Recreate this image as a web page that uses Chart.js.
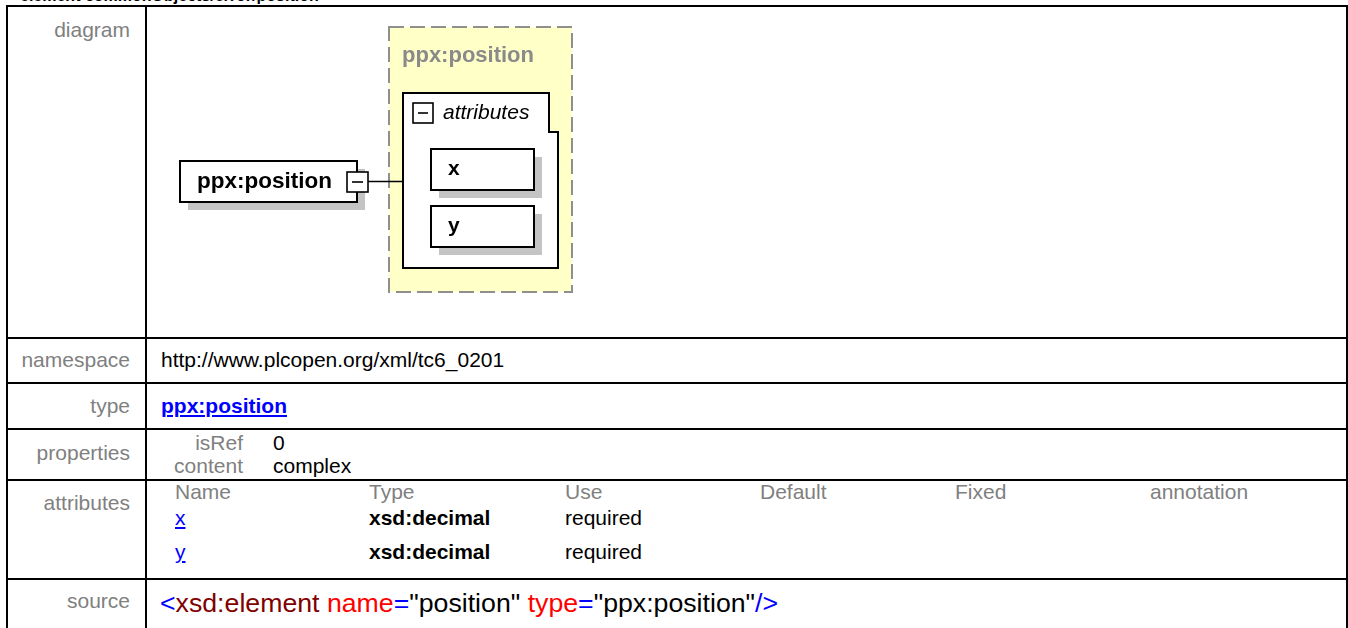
<!DOCTYPE html>
<html>
<head>
<meta charset="utf-8">
<script src="https://cdn.jsdelivr.net/npm/chart.js"></script>
<style>
  html, body { margin: 0; padding: 0; background: #fff; }
  body { width: 1348px; height: 628px; overflow: hidden; position: relative;
         font-family: "Liberation Sans", Arial, sans-serif; }
  .rule { position: absolute; background: #000; }
  .t { position: absolute; line-height: 1; white-space: nowrap; font-size: 21px; color: #000; }
  .lab { left: 6px; width: 124px; text-align: right; color: #808080; }
  .gray { color: #808080; }
  a, .link { color: #0000ff; text-decoration: underline; }
  #diagram { position: absolute; left: 148px; top: 7px; }
</style>
</head>
<body>

<div class="t" style="left:20px; top:-12.5px; font-size:16px; font-weight:bold;">element commonObjects/error/position</div>

<!-- table frame -->
<div class="rule" style="left:6px; top:5px; width:1342px; height:2px;"></div>
<div class="rule" style="left:6px; top:337px; width:1342px; height:2px;"></div>
<div class="rule" style="left:6px; top:382px; width:1342px; height:2px;"></div>
<div class="rule" style="left:6px; top:428px; width:1342px; height:2px;"></div>
<div class="rule" style="left:6px; top:479px; width:1342px; height:2px;"></div>
<div class="rule" style="left:6px; top:578px; width:1342px; height:2px;"></div>
<div class="rule" style="left:6px; top:5px; width:2px; height:630px;"></div>
<div class="rule" style="left:145px; top:5px; width:2px; height:630px;"></div>
<div class="rule" style="left:1346px; top:5px; width:2px; height:630px;"></div>

<!-- row labels -->
<div class="t lab" style="top:19px;">diagram</div>
<div class="t lab" style="top:349px;">namespace</div>
<div class="t lab" style="top:395px;">type</div>
<div class="t lab" style="top:442px;">properties</div>
<div class="t lab" style="top:492px;">attributes</div>
<div class="t lab" style="top:590px;">source</div>

<canvas id="diagram" width="1198" height="330"></canvas>

<div class="t" id="nsText" style="left:161px; top:349px;"></div>
<div class="t link" id="typeText" style="left:161px; top:395px; font-weight:bold;"></div>
<div id="props"></div>
<div id="attrs"></div>

<div class="t" style="left:160px; top:590px; font-size:26.7px;"><span style="color:#0000ff">&lt;</span><span style="color:#800000">xsd:element</span> <span style="color:#ff0000">name</span><span style="color:#0000ff">=</span>"position" <span style="color:#ff0000">type</span><span style="color:#0000ff">=</span>"ppx:position"<span style="color:#0000ff">/&gt;</span></div>

<script>
// ---- content ----
const elementName = 'ppx:position';
const typeName    = 'ppx:position';
const groupLabel  = 'attributes';
const namespace   = 'http://www.plcopen.org/xml/tc6_0201';

const propNames  = ['isRef', 'content'];
const propValues = ['0', 'complex'];

const attrColumns = ['Name', 'Type', 'Use', 'Default', 'Fixed', 'annotation'];
const attrNames   = ['x', 'y'];
const attrTypes   = ['xsd:decimal', 'xsd:decimal'];
const attrUse     = ['required', 'required'];

// ---- text rows ----
document.getElementById('nsText').textContent = namespace;
document.getElementById('typeText').textContent = typeName;

const props = document.getElementById('props');
propNames.forEach((p, i) => {
  const top = 432 + i * 23;
  props.insertAdjacentHTML('beforeend',
    `<div class="t gray" style="left:143px; width:100px; text-align:right; top:${top}px;">${p}</div>` +
    `<div class="t" style="left:273px; top:${top}px;">${propValues[i]}</div>`);
});

const COL_X = [175, 369, 565, 760, 955, 1150];   // sub-table column lefts
const ROW_T = [507, 541];                          // sub-table row tops
const attrs = document.getElementById('attrs');
attrColumns.forEach((c, i) => {
  attrs.insertAdjacentHTML('beforeend',
    `<div class="t gray" style="left:${COL_X[i]}px; top:481px;">${c}</div>`);
});
attrNames.forEach((n, i) => {
  const top = ROW_T[i];
  attrs.insertAdjacentHTML('beforeend',
    `<div class="t link" style="left:${COL_X[0]}px; top:${top}px;">${n}</div>` +
    `<div class="t" style="left:${COL_X[1]}px; top:${top}px; font-weight:bold;">${attrTypes[i]}</div>` +
    `<div class="t" style="left:${COL_X[2]}px; top:${top}px;">${attrUse[i]}</div>`);
});

// ---- diagram geometry (canvas units, 1 unit = 1 px) ----
const W = 1198, H = 330;
const GEO = {
  typeBox:  { x: 241, y: 20,  w: 183, h: 265 },
  elem:     { x: 32,  y: 154, w: 177, h: 41 },
  elemMinus:{ x: 199, y: 165, w: 21,  h: 20 },
  group:    { x: 255, y: 86,  w: 155, h: 175, notchX: 401, notchY: 125 },
  groupMinus:{ x: 265, y: 96, w: 20,  h: 20 },
  attr0:    { x: 283, y: 142, w: 103, h: 41 },
  attrStep: 57,
  shadow: 8
};

const diagramPlugin = {
  id: 'schemaDiagram',
  afterDraw(chart) {
    const ctx = chart.ctx;
    const sx = chart.scales.x, sy = chart.scales.y;
    const X = v => sx.getPixelForValue(v);
    const Y = v => sy.getPixelForValue(v);

    const rect = (r, fill, stroke, lw = 2) => {
      const x0 = X(r.x), y0 = Y(r.y), x1 = X(r.x + r.w), y1 = Y(r.y + r.h);
      if (fill) { ctx.fillStyle = fill; ctx.fillRect(x0, y0, x1 - x0, y1 - y0); }
      if (stroke) { ctx.strokeStyle = stroke; ctx.lineWidth = lw; ctx.strokeRect(x0, y0, x1 - x0, y1 - y0); }
    };
    const shadowed = r => {
      rect({ x: r.x + GEO.shadow, y: r.y + GEO.shadow, w: r.w, h: r.h }, '#c4c4c4');
      rect(r, '#ffffff', '#000000');
    };
    const minus = r => {
      rect(r, '#ffffff', '#000000', 1.6);
      ctx.beginPath();
      ctx.moveTo(X(r.x + 5), Y(r.y + r.h / 2));
      ctx.lineTo(X(r.x + r.w - 5), Y(r.y + r.h / 2));
      ctx.lineWidth = 1.6; ctx.strokeStyle = '#000';
      ctx.stroke();
    };

    ctx.save();

    // complex type frame (dashed, pale yellow)
    const tb = GEO.typeBox;
    rect(tb, '#ffffc8');
    ctx.setLineDash([15, 6]);
    rect(tb, null, '#8f8f8f', 2);
    ctx.setLineDash([]);
    ctx.font = 'bold 22px "Liberation Sans", Arial, sans-serif';
    ctx.fillStyle = '#8a8a8a';
    ctx.textBaseline = 'alphabetic';
    ctx.fillText(typeName, X(tb.x + 13), Y(55));

    // connector
    const e = GEO.elem, g = GEO.group;
    ctx.beginPath();
    ctx.moveTo(X(GEO.elemMinus.x + GEO.elemMinus.w), Y(e.y + e.h / 2));
    ctx.lineTo(X(g.x), Y(e.y + e.h / 2));
    ctx.lineWidth = 1.6; ctx.strokeStyle = '#000';
    ctx.stroke();

    // element box
    shadowed(e);
    ctx.font = 'bold 22.5px "Liberation Sans", Arial, sans-serif';
    ctx.fillStyle = '#000';
    ctx.fillText(elementName, X(e.x + 17), Y(181));
    minus(GEO.elemMinus);

    // attribute group (tab shape)
    ctx.beginPath();
    ctx.moveTo(X(g.x), Y(g.y));
    ctx.lineTo(X(g.notchX), Y(g.y));
    ctx.lineTo(X(g.notchX), Y(g.notchY));
    ctx.lineTo(X(g.x + g.w), Y(g.notchY));
    ctx.lineTo(X(g.x + g.w), Y(g.y + g.h));
    ctx.lineTo(X(g.x), Y(g.y + g.h));
    ctx.closePath();
    ctx.fillStyle = '#fff'; ctx.fill();
    ctx.lineWidth = 2; ctx.strokeStyle = '#000'; ctx.stroke();
    minus(GEO.groupMinus);
    ctx.font = 'italic 21px "Liberation Sans", Arial, sans-serif';
    ctx.fillStyle = '#000';
    ctx.fillText(groupLabel, X(295), Y(112));

    // attributes
    attrNames.forEach((n, i) => {
      const r = { ...GEO.attr0, y: GEO.attr0.y + i * GEO.attrStep };
      shadowed(r);
      ctx.font = 'bold 21px "Liberation Sans", Arial, sans-serif';
      ctx.fillStyle = '#000';
      ctx.fillText(n, X(r.x + 17), Y(r.y + 26));
    });

    ctx.restore();
  }
};

new Chart(document.getElementById('diagram').getContext('2d'), {
  type: 'scatter',
  data: { datasets: [{ data: [], pointRadius: 0 }] },
  options: {
    responsive: false,
    animation: false,
    layout: { padding: 0 },
    plugins: { legend: { display: false }, tooltip: { enabled: false } },
    scales: {
      x: { type: 'linear', min: 0, max: W, display: false },
      y: { type: 'linear', min: 0, max: H, reverse: true, display: false }
    }
  },
  plugins: [diagramPlugin]
});
</script>
</body>
</html>
